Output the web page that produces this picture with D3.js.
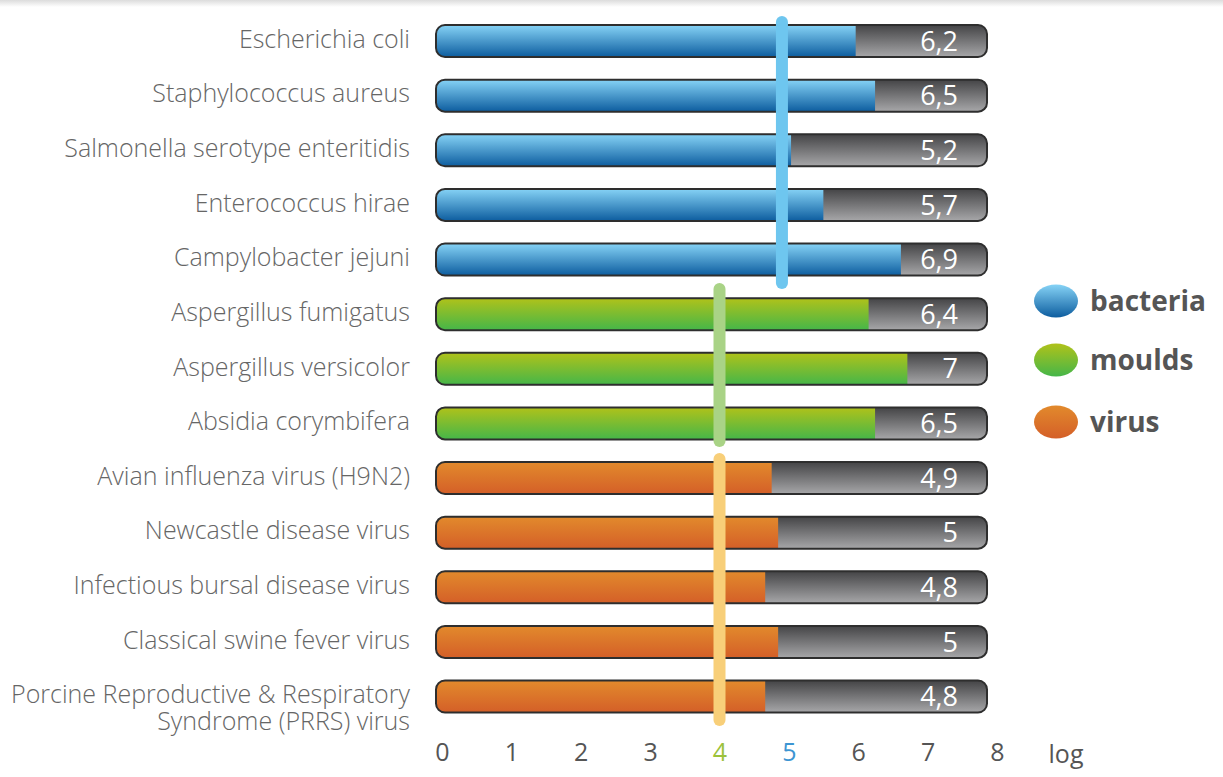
<!DOCTYPE html>
<html>
<head>
<meta charset="utf-8">
<script src="https://cdn.jsdelivr.net/npm/d3@7"></script>
<style>
  body { margin: 0; background: #fff; }
  svg { display: block; }
</style>
</head>
<body>
<div id="chart"></div>
<script>
const names = [
  "Escherichia coli",
  "Staphylococcus aureus",
  "Salmonella serotype enteritidis",
  "Enterococcus hirae",
  "Campylobacter jejuni",
  "Aspergillus fumigatus",
  "Aspergillus versicolor",
  "Absidia corymbifera",
  "Avian influenza virus (H9N2)",
  "Newcastle disease virus",
  "Infectious bursal disease virus",
  "Classical swine fever virus",
  "Porcine Reproductive & Respiratory|Syndrome (PRRS) virus"
]
const values = [6.2, 6.5, 5.2, 5.7, 6.9, 6.4, 7, 6.5, 4.9, 5, 4.8, 5, 4.8]
const groups = ["bacteria", "bacteria", "bacteria", "bacteria", "bacteria",
  "moulds", "moulds", "moulds",
  "virus", "virus", "virus", "virus", "virus"]
const groupNames = ["bacteria", "moulds", "virus"]
// reference line per group (log value)
const thresholds = [4.9, 4, 4]
const ticks = [0, 1, 2, 3, 4, 5, 6, 7, 8]

const width = 1223, height = 777
const barLeft = 436, barRight = 987, barH = 32

const svg = d3.select("#chart").append("svg")
  .attr("width", width)
  .attr("height", height)
  .style("font-family", "'Open Sans', sans-serif")

const defs = svg.append("defs")

const grads = {
  bacteria: ["#86d3f6", "#0d5d9f"],
  moulds: ["#b0c21a", "#45b649"],
  virus: ["#e28a2c", "#d45f28"],
  rest: ["#444446", "#a7a7a9"]
}
const lineColors = { bacteria: "#6ec6ef", moulds: "#a9d386", virus: "#f8cf79" }

Object.entries(grads).forEach(([k, c]) => {
  const g = defs.append("linearGradient")
    .attr("id", "g-" + k)
    .attr("x1", 0).attr("y1", 0).attr("x2", 0).attr("y2", 1)
  g.append("stop").attr("offset", "0%").attr("stop-color", c[0])
  g.append("stop").attr("offset", "100%").attr("stop-color", c[1])
})

// faint shadow strip at the top
const topGrad = defs.append("linearGradient").attr("id", "g-top")
  .attr("x1", 0).attr("y1", 0).attr("x2", 0).attr("y2", 1)
topGrad.append("stop").attr("offset", "0%").attr("stop-color", "#dcdcdc")
topGrad.append("stop").attr("offset", "100%").attr("stop-color", "#fff")
svg.append("rect").attr("width", width).attr("height", 7).attr("fill", "url(#g-top)")

// row centres
const y = d3.scalePoint()
  .domain(names)
  .range([41, 696.5])

// scale used for bar lengths
const xBar = d3.scaleLinear().domain([0, 8]).range([455, 972])
// scale used for the axis labels and reference lines
const xAxis = d3.scaleLinear().domain([0, 8]).range([442, 997])

const rows = svg.append("g").selectAll("g")
  .data(names.map((n, i) => ({ name: n, value: values[i], group: groups[i] })))
  .join("g")
  .attr("transform", d => `translate(0, ${y(d.name) - barH / 2})`)

const clip = defs.append("clipPath").attr("id", "barclip")
clip.append("rect")
  .attr("x", barLeft).attr("y", 0)
  .attr("width", barRight - barLeft).attr("height", barH)
  .attr("rx", 9)

rows.append("rect")
  .attr("x", barLeft).attr("y", 0)
  .attr("width", barRight - barLeft).attr("height", barH)
  .attr("rx", 9)
  .attr("fill", "url(#g-rest)")

rows.append("rect")
  .attr("clip-path", "url(#barclip)")
  .attr("x", barLeft).attr("y", 0)
  .attr("width", d => xBar(d.value) - barLeft)
  .attr("height", barH)
  .attr("fill", d => `url(#g-${d.group})`)

rows.append("rect")
  .attr("x", barLeft).attr("y", 0)
  .attr("width", barRight - barLeft).attr("height", barH)
  .attr("rx", 9)
  .attr("fill", "none")
  .attr("stroke", "#2e2e2e")
  .attr("stroke-width", 2)

rows.append("text")
  .attr("x", 958)
  .attr("y", barH / 2)
  .attr("dy", "0.36em")
  .attr("text-anchor", "end")
  .attr("fill", "#fff")
  .style("font-size", "27px")
  .text(d => String(d.value).replace(".", ","))

rows.each(function (d) {
  const lines = d.name.split("|")
  const t = d3.select(this).append("text")
    .attr("text-anchor", "end")
    .attr("fill", "#666")
    .style("font-size", "25px")
    .style("font-weight", 300)
  lines.forEach((l, i) => {
    t.append("tspan")
      .attr("x", 410)
      .attr("y", barH / 2 - 2 + i * 27)
      .attr("dy", "0.35em")
      .text(l)
  })
})

// reference lines, one per group
const lineSpans = [[22, 283], [289, 441], [459, 720]]
groupNames.forEach((g, gi) => {
  svg.append("line")
    .attr("x1", xAxis(thresholds[gi])).attr("x2", xAxis(thresholds[gi]))
    .attr("y1", lineSpans[gi][0]).attr("y2", lineSpans[gi][1])
    .attr("stroke", lineColors[g])
    .attr("stroke-width", 12)
    .attr("stroke-linecap", "round")
})

// axis
const axis = svg.append("g")
  .attr("transform", "translate(0, 743)")
  .call(d3.axisBottom(xAxis).tickValues(ticks).tickSize(0).tickPadding(0).tickFormat(d3.format("d")))
axis.select(".domain").remove()
axis.selectAll("text")
  .style("font-family", "'Open Sans', sans-serif")
  .style("font-size", "25px")
  .attr("fill", d => d === 4 ? "#9cc23b" : d === 5 ? "#3d95d2" : "#555")

svg.append("text")
  .attr("x", 1066).attr("y", 763)
  .attr("text-anchor", "middle")
  .attr("fill", "#555")
  .style("font-size", "25px")
  .text("log")

// legend
const legendY = [301, 360, 422]
const legend = svg.append("g").selectAll("g")
  .data(groupNames)
  .join("g")
  .attr("transform", (d, i) => `translate(1056, ${legendY[i]})`)

legend.append("ellipse")
  .attr("rx", 22).attr("ry", 16.5)
  .attr("fill", d => `url(#g-${d})`)

legend.append("text")
  .attr("x", 34)
  .attr("dy", "0.35em")
  .attr("fill", "#555")
  .style("font-size", "28px")
  .style("font-weight", 700)
  .text(d => d)
</script>
</body>
</html>
